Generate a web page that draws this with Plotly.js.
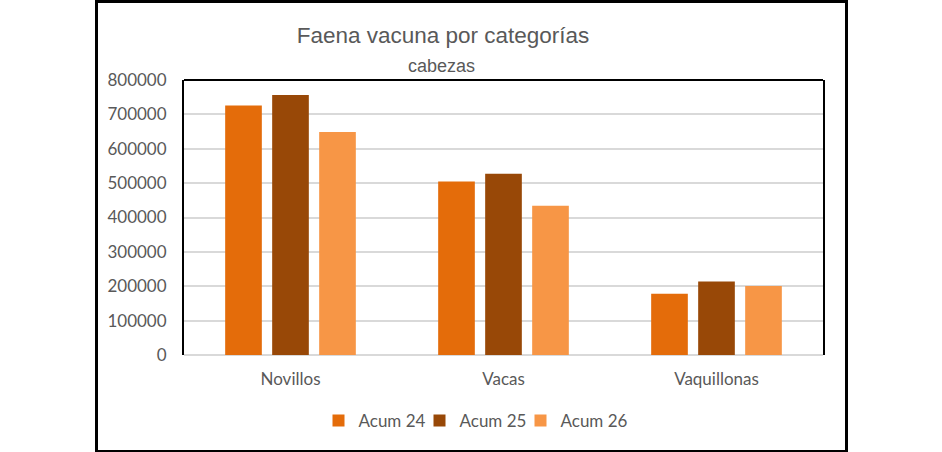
<!DOCTYPE html>
<html>
<head>
<meta charset="utf-8">
<script src="https://cdn.plot.ly/plotly-3.0.1.min.js"></script>
<style>
  body { margin: 0; background: #fff; }
  #myDiv { position: absolute; left: 0; top: 0; width: 942px; height: 452px; }
  #frame { position: absolute; left: 95px; top: 0px; width: 747px; height: 447px;
           border: 3px solid #000; pointer-events: none; }
</style>
</head>
<body>
<div id="myDiv"></div>
<div id="frame"></div>
<script>
// categorias y series (cabezas)
var categorias = ['Novillos', 'Vacas', 'Vaquillonas'];
var acum24 = [725600, 504700, 178000];
var acum25 = [756700, 527000, 214000];
var acum26 = [649000, 434000, 201000];
var nombres = ['Acum 24', 'Acum 25', 'Acum 26'];
var yTicks = [0, 100000, 200000, 300000, 400000, 500000, 600000, 700000, 800000];

var colores = ['#E46C0A', '#984807', '#F79646'];
var series = [acum24, acum25, acum26];

var data = [];
for (var i = 0; i < series.length; i++) {
  var t = {
    x: categorias,
    y: series[i],
    name: nombres[i],
    type: 'bar',
    marker: { color: colores[i] },
    hoverinfo: 'x+y+name'
  };
  // el ultimo item de la leyenda necesita lugar para el texto
  if (i === series.length - 1) t.legendwidth = 72;
  data.push(t);
}

var gris = '#595959';
var tituloFont = '"Liberation Sans Narrow", "Arial Narrow", "Liberation Sans", Arial, sans-serif';

var layout = {
  width: 942,
  height: 452,
  margin: { l: 184, r: 119, t: 80, b: 97, pad: 0 },
  paper_bgcolor: '#fff',
  plot_bgcolor: '#fff',
  font: { family: 'Lato, "Open Sans", sans-serif', size: 17, color: gris },
  title: {
    text: 'Faena vacuna por categorías',
    font: { family: tituloFont, size: 22.5, color: gris },
    x: 443 / 942,
    xanchor: 'center',
    xref: 'container',
    y: 1 - 35 / 452,
    yanchor: 'middle',
    yref: 'container'
  },
  annotations: [
    { text: 'cabezas', showarrow: false,
      xref: 'paper', yref: 'paper',
      x: (441 - 184) / 639, xanchor: 'center',
      y: (355 - 66) / 275, yanchor: 'middle',
      font: { family: tituloFont, size: 18, color: gris } }
  ],
  barmode: 'group',
  bargap: 0.338,
  bargroupgap: 0.22,
  showlegend: true,
  legend: {
    orientation: 'h',
    x: (478 - 184) / 639,
    xanchor: 'center',
    y: (355 - 421) / 275,
    yanchor: 'middle',
    entrywidth: 56,
    font: { size: 17, color: gris },
    bgcolor: 'rgba(0,0,0,0)'
  },
  xaxis: {
    type: 'category',
    showline: false,
    showgrid: false,
    ticks: '',
    ticklabelstandoff: 12,
    tickfont: { size: 17, color: gris },
    fixedrange: true
  },
  yaxis: {
    range: [0, 800000],
    tickvals: yTicks,
    ticktext: yTicks.map(function (v) { return String(v); }),
    showgrid: true,
    gridcolor: '#d9d9d9',
    gridwidth: 2,
    zeroline: true,
    zerolinecolor: '#d9d9d9',
    zerolinewidth: 2,
    showline: true,
    mirror: true,
    linecolor: '#000',
    linewidth: 2,
    ticks: '',
    ticklabelstandoff: 12,
    tickfont: { size: 17, color: gris },
    fixedrange: true
  },
  shapes: [
    // linea superior del area de grafico
    { type: 'line', xref: 'paper', yref: 'paper', x0: 0, x1: 1, y0: 1, y1: 1,
      line: { color: '#000', width: 2 } }
  ]
};

Plotly.newPlot('myDiv', data, layout, { displayModeBar: false });
</script>
</body>
</html>
